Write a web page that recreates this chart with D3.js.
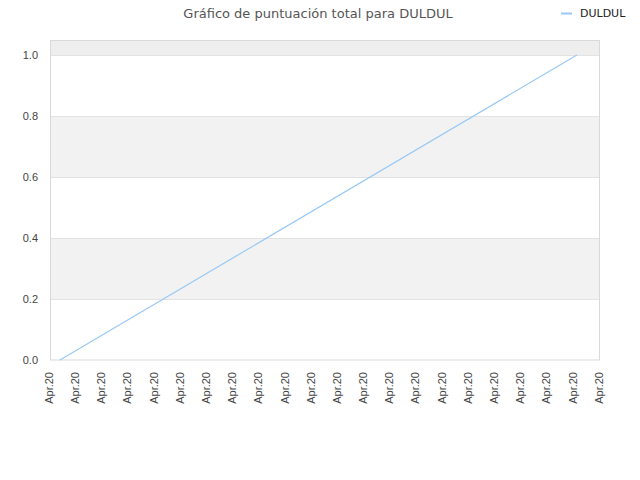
<!DOCTYPE html>
<html><head><meta charset="utf-8">
<script src="https://cdn.jsdelivr.net/npm/d3@7"></script>
<style>body{margin:0;background:#fff;}svg{display:block;font-family:"DejaVu Sans",sans-serif;}</style>
</head><body>
<svg id="c" width="640" height="480"></svg>
<script>
const title = "Gráfico de puntuación total para DULDUL";
const seriesName = "DULDUL";
const xTickLabels = Array.from({length: 22}, () => "Apr.20");
const seriesX = [0.38, 20.12];
const seriesY = [0.0, 1.0];
const yTicks = [0.0, 0.2, 0.4, 0.6, 0.8, 1.0];

const svg = d3.select("#c");
const m = {l: 50, r: 600, t: 40, b: 360};
const x = d3.scaleLinear().domain([0, xTickLabels.length - 1]).range([m.l, m.r]);
const y = d3.scaleLinear().domain([0, 1.049]).range([m.b, m.t]);
const axisFont = "Liberation Sans, Arial, sans-serif";

// bands
const bandEdges = [0, 0.2, 0.4, 0.6, 0.8, 1.0, 1.049];
for (let i = 0; i < bandEdges.length - 1; i++) {
  const fill = i === 5 ? "#eeeeee" : (i % 2 === 1 ? "#f2f2f2" : "#ffffff");
  svg.append("rect").attr("x", m.l).attr("width", m.r - m.l)
    .attr("y", y(bandEdges[i + 1])).attr("height", y(bandEdges[i]) - y(bandEdges[i + 1]))
    .attr("fill", fill);
}
// grid lines
svg.append("g").selectAll("line").data(yTicks.slice(1)).join("line")
  .attr("x1", m.l).attr("x2", m.r)
  .attr("y1", d => Math.round(y(d)) + 0.5).attr("y2", d => Math.round(y(d)) + 0.5)
  .attr("stroke", "#e3e3e3");
// border
svg.append("rect").attr("x", m.l + 0.5).attr("y", m.t + 0.5)
  .attr("width", m.r - m.l - 1).attr("height", m.b - m.t - 0.5)
  .attr("fill", "none").attr("stroke", "#d9d9d9");

// y axis
const ya = svg.append("g").attr("transform", `translate(${m.l},0)`)
  .call(d3.axisLeft(y).tickValues(yTicks).tickFormat(d3.format(".1f")).tickSize(0).tickPadding(12));
ya.select(".domain").remove();
ya.selectAll("text").attr("font-size", 11).attr("fill", "#444").attr("font-family", axisFont);

// x axis
const xa = svg.append("g").attr("transform", `translate(0,${m.b})`)
  .call(d3.axisBottom(x).tickValues(d3.range(xTickLabels.length)).tickFormat(i => xTickLabels[i]).tickSize(0));
xa.select(".domain").remove();
xa.selectAll("text").attr("font-size", 11).attr("fill", "#444").attr("font-family", axisFont)
  .attr("transform", "rotate(-90)").attr("text-anchor", "end").attr("dy", "0.3em").attr("x", -12).attr("y", -1);

// line
const pts = seriesX.map((d, i) => [d, seriesY[i]]);
svg.append("path").datum(pts)
  .attr("d", d3.line().x(d => x(d[0])).y(d => y(d[1])))
  .attr("fill", "none").attr("stroke", "#99c9f5").attr("stroke-width", 1.2);

// title
svg.append("text").attr("x", 318).attr("y", 18).attr("text-anchor", "middle")
  .attr("font-size", 13).attr("fill", "#555").text(title);
// legend
svg.append("line").attr("x1", 561).attr("x2", 572).attr("y1", 13.5).attr("y2", 13.5)
  .attr("stroke", "#99c9f5").attr("stroke-width", 2);
svg.append("text").attr("x", 580).attr("y", 17).attr("font-size", 11).attr("fill", "#222").text(seriesName);
</script>
</body></html>
